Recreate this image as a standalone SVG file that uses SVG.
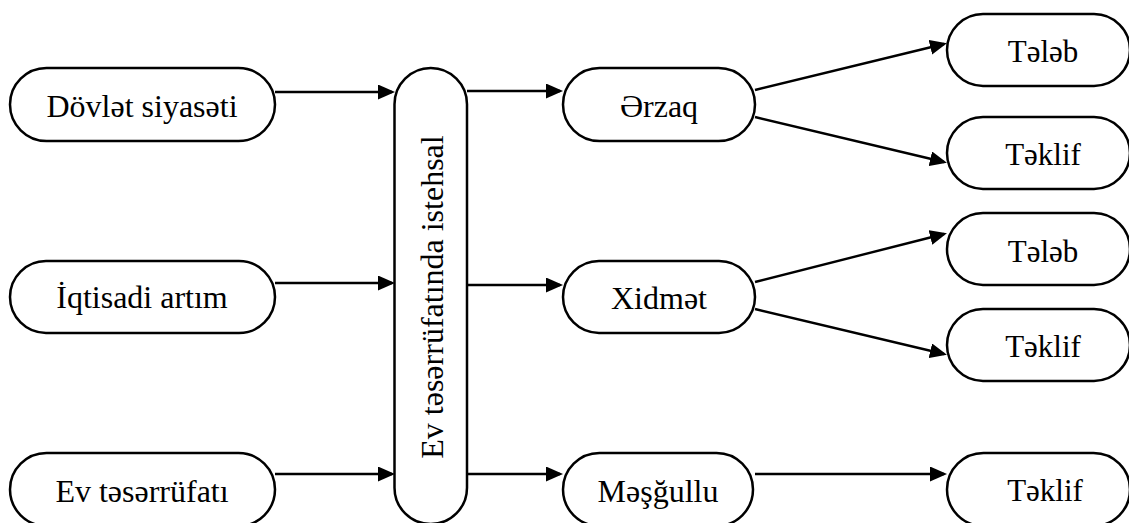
<svg xmlns="http://www.w3.org/2000/svg" width="1129" height="523" viewBox="0 0 1129 523">
  <style>
    .node { fill: #ffffff; stroke: #000000; stroke-width: 2.5; }
    .lbl { font-family: "Liberation Serif", "DejaVu Serif", serif; font-size: 32px; fill: #000000; text-anchor: middle; }
    .lbl-sm { font-size: 31px; }
    .edge { fill: none; stroke: #000000; stroke-width: 2.4; marker-end: url(#arrow); }
  </style>
  <defs>
    <marker id="arrow" markerUnits="userSpaceOnUse" markerWidth="18" markerHeight="16" refX="14" refY="7.5" orient="auto">
      <path d="M0,0 L17,7.5 L0,15 z" fill="#000000"/>
    </marker>
  </defs>
  <rect width="1129" height="523" fill="#ffffff"/>

  <!-- connectors -->
  <g id="connectors">
    <line class="edge" x1="275" y1="92" x2="392" y2="92"/>
    <line class="edge" x1="275" y1="283" x2="392" y2="283"/>
    <line class="edge" x1="275" y1="474" x2="392" y2="474"/>
    <line class="edge" x1="467" y1="91" x2="560" y2="91"/>
    <line class="edge" x1="467" y1="285" x2="560" y2="285"/>
    <line class="edge" x1="467" y1="474" x2="560" y2="474"/>
    <line class="edge" x1="755" y1="90" x2="944" y2="44"/>
    <line class="edge" x1="755" y1="117" x2="944" y2="162"/>
    <line class="edge" x1="755" y1="282" x2="944" y2="234"/>
    <line class="edge" x1="755" y1="309" x2="944" y2="354"/>
    <line class="edge" x1="755" y1="474" x2="944" y2="474"/>
  </g>

  <!-- input factors -->
  <g id="dovlet-siyaseti">
    <rect class="node" x="10" y="68" width="265" height="73" rx="36.5"/>
    <text class="lbl" x="142" y="117">Dövlət siyasəti</text>
  </g>
  <g id="iqtisadi-artim">
    <rect class="node" x="10" y="261" width="265" height="72" rx="36"/>
    <text class="lbl" x="142" y="308">İqtisadi artım</text>
  </g>
  <g id="ev-teserrufati">
    <rect class="node" x="10" y="453" width="265" height="73" rx="36.5"/>
    <text class="lbl" x="142" y="502">Ev təsərrüfatı</text>
  </g>

  <!-- central process -->
  <g id="ev-teserrufatinda-istehsal">
    <rect class="node" x="394.5" y="68" width="72.5" height="456" rx="36.25"/>
    <text class="lbl" transform="translate(443,297) rotate(-90)">Ev təsərrüfatında istehsal</text>
  </g>

  <!-- sectors -->
  <g id="erzaq">
    <rect class="node" x="563" y="68" width="192" height="73" rx="36.5"/>
    <text class="lbl" x="659" y="117">Ərzaq</text>
  </g>
  <g id="xidmet">
    <rect class="node" x="563" y="261" width="192" height="72" rx="36"/>
    <text class="lbl" x="659" y="309">Xidmət</text>
  </g>
  <g id="mesgullu">
    <rect class="node" x="563" y="453" width="190" height="73" rx="36.5"/>
    <text class="lbl" x="658" y="502">Məşğullu</text>
  </g>

  <!-- outcomes -->
  <g id="erzaq-teleb">
    <rect class="node" x="947" y="14" width="183" height="72" rx="36"/>
    <text class="lbl lbl-sm" x="1043" y="62">Tələb</text>
  </g>
  <g id="erzaq-teklif">
    <rect class="node" x="947" y="117" width="183" height="72" rx="36"/>
    <text class="lbl lbl-sm" x="1043" y="165">Təklif</text>
  </g>
  <g id="xidmet-teleb">
    <rect class="node" x="947" y="213" width="183" height="72" rx="36"/>
    <text class="lbl lbl-sm" x="1043" y="262">Tələb</text>
  </g>
  <g id="xidmet-teklif">
    <rect class="node" x="947" y="309" width="183" height="72" rx="36"/>
    <text class="lbl lbl-sm" x="1043" y="357">Təklif</text>
  </g>
  <g id="mesgullu-teklif">
    <rect class="node" x="947" y="453" width="183" height="73" rx="36.5"/>
    <text class="lbl lbl-sm" x="1045" y="501">Təklif</text>
  </g>
</svg>
